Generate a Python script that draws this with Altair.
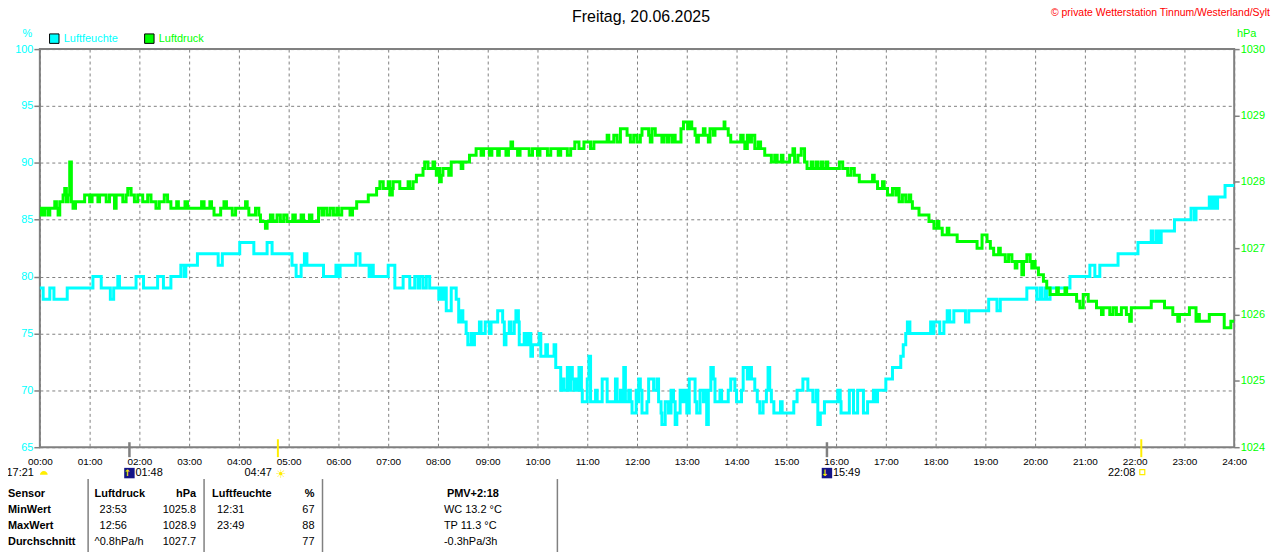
import altair as alt
import pandas as pd

# ---------------- data ----------------
hum_steps = [(0,79),(4,78),(12,79),(17,78),(33,79),(64,80),(74,79),(85,78),(89,79),(94,80),(96,79),(116,80),(125,79),(142,80),(149,79),(158,80),(170,81),(174,80),(176,81),(190,82),(215,81),(220,82),(241,83),(258,82),(274,83),(280,82),(304,81),(309,80),(315,81),(319,82),(322,81),(342,80),(357,81),(360,80),(362,81),(381,82),(386,81),(397,80),(400,81),(402,80),(420,81),(428,79),(438,80),(446,79),(452,80),(456,79),(458,80),(462,79),(466,80),(470,79),(481,78),(483,79),(486,78),(488,79),(490,77),(496,79),(502,78),(505,76),(508,77),(510,76),(514,75),(516,74),(520,75),(522,74),(524,75),(530,76),(532,75),(537,76),(542,75),(544,76),(552,77),(558,76),(560,74),(562,75),(566,76),(568,75),(572,76),(574,77),(577,76),(578,74),(584,75),(586,74),(589,75),(592,73),(594,74),(602,75),(604,73),(610,74),(612,73),(620,74),(622,72),(628,70),(630,71),(632,70),(636,72),(638,70),(640,72),(642,71),(644,70),(646,71),(649,70),(650,72),(653,70),(654,69),(660,71),(662,73),(664,69),(670,70),(672,69),(678,71),(684,69),(694,71),(696,69),(700,70),(702,69),(704,72),(706,69),(710,70),(712,69),(714,68),(719,70),(721,69),(722,71),(724,70),(726,68),(732,69),(734,71),(740,70),(744,71),(746,69),(749,68),(750,67),(754,69),(758,68),(761,70),(764,69),(766,67),(768,68),(772,70),(774,69),(777,70),(780,68),(783,71),(790,69),(792,68),(796,70),(800,69),(802,70),(804,67),(806,70),(809,72),(812,71),(814,69),(820,70),(822,69),(830,70),(833,71),(838,70),(840,69),(846,70),(848,72),(853,71),(856,72),(858,71),(862,70),(865,69),(868,68),(872,69),(876,70),(878,72),(880,70),(882,69),(885,68),(893,69),(895,68),(909,69),(913,70),(920,71),(926,70),(932,69),(936,70),(938,67),(941,68),(946,69),(962,70),(965,69),(966,68),(976,70),(981,68),(986,70),(993,68),(998,69),(1005,70),(1008,69),(1010,70),(1020,71),(1028,72),(1038,73),(1041,74),(1044,75),(1046,76),(1049,75),(1074,76),(1076,75),(1078,76),(1085,75),(1090,76),(1094,77),(1097,76),(1102,77),(1116,76),(1120,77),(1144,78),(1154,77),(1158,78),(1190,79),(1202,78),(1206,79),(1208,78),(1212,79),(1214,78),(1218,79),(1242,80),(1266,81),(1272,80),(1278,81),(1300,82),(1324,83),(1340,84),(1342,83),(1346,84),(1349,83),(1352,84),(1368,85),(1388,86),(1392,85),(1394,86),(1410,87),(1413,86),(1416,87),(1419,86),(1420,87),(1429,88),(1440,88)]

pres_steps = [(0,1027.5),(2,1027.6),(5,1027.5),(6,1027.6),(10,1027.5),(12,1027.6),(18,1027.7),(20,1027.6),(22,1027.5),(24,1027.7),(28,1027.8),(30,1027.9),(32,1027.7),(34,1027.8),(36,1028.3),(38,1027.7),(40,1027.6),(43,1027.7),(54,1027.8),(60,1027.7),(63,1027.8),(70,1027.7),(72,1027.8),(80,1027.7),(84,1027.8),(90,1027.6),(92,1027.8),(100,1027.7),(104,1027.8),(106,1027.9),(110,1027.8),(114,1027.7),(118,1027.8),(124,1027.7),(130,1027.8),(134,1027.7),(140,1027.6),(144,1027.7),(150,1027.8),(154,1027.7),(158,1027.6),(165,1027.7),(167,1027.6),(175,1027.7),(178,1027.6),(195,1027.7),(198,1027.6),(205,1027.7),(207,1027.6),(210,1027.5),(218,1027.6),(222,1027.7),(225,1027.6),(232,1027.5),(236,1027.6),
(248,1027.7),(250,1027.6),(252,1027.5),(260,1027.6),(264,1027.5),(266,1027.4),(272,1027.3),(274,1027.4),(278,1027.5),(281,1027.4),(286,1027.5),(290,1027.4),(294,1027.5),(298,1027.4),(305,1027.5),(308,1027.4),(315,1027.5),(318,1027.4),(325,1027.5),(328,1027.4),(336,1027.6),(340,1027.5),(342,1027.6),(346,1027.5),(350,1027.6),(354,1027.5),(358,1027.6),(360,1027.5),(364,1027.6),(374,1027.5),(377,1027.6),(382,1027.7),(396,1027.8),(406,1027.9),(410,1028.0),(414,1027.9),(420,1028.0),(422,1027.8),(425,1027.9),(426,1028.0),(434,1027.9),(444,1028.0),(446,1027.9),(450,1028.0),(454,1028.1),(462,1028.2),(464,1028.3),(468,1028.2),(474,1028.3),(476,1028.2),(478,1028.1),(480,1028.2),(482,1028.0),(484,1028.1),(486,1028.2),(493,1028.1),(496,1028.3),(508,1028.2),(510,1028.3),(518,1028.4),(526,1028.5),(532,1028.4),(535,1028.5),(542,1028.4),(545,1028.5),(552,1028.4),(554,1028.5),(562,1028.4),(565,1028.5),(568,1028.6),(570,1028.5),(576,1028.4),(579,1028.5),(590,1028.4),(594,1028.5),(600,1028.4),(603,1028.5),(612,1028.4),(616,1028.5),(625,1028.4),(628,1028.5),(636,1028.4),(640,1028.5),(645,1028.6),(650,1028.5),(656,1028.6),(664,1028.5),(668,1028.6),(684,1028.7),(686,1028.6),(692,1028.7),(696,1028.6),(700,1028.8),(708,1028.7),(712,1028.6),(716,1028.7),(720,1028.6),
(724,1028.7),(726,1028.8),(734,1028.7),(736,1028.6),(738,1028.8),(742,1028.7),(750,1028.6),(752,1028.7),(756,1028.6),(758,1028.7),(762,1028.6),(764,1028.7),(766,1028.6),(773,1028.8),(776,1028.9),(781,1028.8),(784,1028.9),(786,1028.8),(790,1028.7),(792,1028.6),(794,1028.7),(800,1028.8),(802,1028.7),(806,1028.6),(808,1028.8),(812,1028.7),(814,1028.8),(825,1028.9),(826,1028.8),(830,1028.7),(833,1028.6),(845,1028.7),(848,1028.6),(850,1028.5),(853,1028.7),(856,1028.6),(858,1028.7),(862,1028.5),(866,1028.6),(869,1028.5),(874,1028.4),(882,1028.3),(886,1028.4),(889,1028.3),(894,1028.4),(896,1028.3),(904,1028.4),(908,1028.5),(910,1028.3),(914,1028.4),(918,1028.5),(922,1028.3),(925,1028.2),(930,1028.3),(932,1028.2),(936,1028.3),(938,1028.2),(942,1028.3),(944,1028.2),(948,1028.3),(950,1028.2),
(964,1028.3),(968,1028.2),(974,1028.1),(978,1028.2),(982,1028.1),(988,1028.0),(1004,1028.1),(1006,1028.0),(1010,1027.9),(1016,1028.0),(1018,1027.9),(1022,1027.8),(1028,1027.9),(1032,1027.8),(1034,1027.9),(1036,1027.7),(1040,1027.8),(1044,1027.7),(1048,1027.8),(1050,1027.7),(1052,1027.6),(1060,1027.5),(1072,1027.4),(1078,1027.3),(1082,1027.4),(1084,1027.3),(1088,1027.2),(1094,1027.3),(1096,1027.2),(1106,1027.1),(1130,1027.0),(1136,1027.2),(1142,1027.1),(1146,1027.0),(1150,1026.9),(1156,1027.0),(1158,1026.9),(1164,1026.8),(1168,1026.9),(1172,1026.8),(1176,1026.7),(1178,1026.8),(1184,1026.6),(1186,1026.8),(1190,1026.9),(1194,1026.8),(1196,1026.7),(1198,1026.8),
(1200,1026.7),(1204,1026.6),(1210,1026.5),(1214,1026.4),(1218,1026.3),(1226,1026.4),(1228,1026.3),(1236,1026.4),(1238,1026.3),(1250,1026.2),(1254,1026.1),(1258,1026.3),(1264,1026.2),(1274,1026.1),(1280,1026.0),(1282,1026.1),(1290,1026.0),(1294,1026.1),(1298,1026.0),(1304,1026.1),(1310,1026.0),(1314,1025.9),(1316,1026.1),(1340,1026.2),(1356,1026.1),(1366,1026.0),(1372,1025.9),(1374,1026.0),(1386,1026.1),(1394,1025.9),(1396,1026.0),(1398,1025.9),(1410,1026.0),(1428,1025.8),(1436,1025.9),(1440,1025.9)]

hour_ticks = list(range(0, 1441, 60))
hum_ticks = [65, 70, 75, 80, 85, 90, 95, 100]
pres_ticks = [1024, 1025, 1026, 1027, 1028, 1029, 1030]

title_text = "Freitag, 20.06.2025"
copyright_text = "\u00a9 private Wetterstation Tinnum/Westerland/Sylt"
series_names = ["Luftfeuchte", "Luftdruck"]

moon_times = [108, 949]
moon_labels = ["01:48", "15:49"]
moon_arrows = ["\u2191", "\u2193"]
sunrise_time = [287]
sunrise_label = ["04:47"]
sunset_time = [1328]
sunset_label = ["22:08"]
prev_time = [0]
prev_label = ["17:21"]

header_sensor = "Sensor"
header_druck = "Luftdruck"
unit_druck = "hPa"
header_feuchte = "Luftfeuchte"
unit_feuchte = "%"
header_pmv = "PMV+2:18"
row_names = ["MinWert", "MaxWert", "Durchschnitt"]
druck_zeit = ["23:53", "12:56"]
druck_trend = ["^0.8hPa/h"]
druck_wert = ["1025.8", "1028.9", "1027.7"]
feuchte_zeit = ["12:31", "23:49"]
feuchte_wert = ["67", "88", "77"]
pmv_werte = ["WC 13.2 \u00b0C", "TP 11.3 \u00b0C", "-0.3hPa/3h"]

# ---------------- style ----------------
CYAN = "#00ffff"
GREEN = "#00ff00"
GRAY = "#808080"
YELLOW = "#ffee00"
NAVY = "#141488"
FONT = "Liberation Sans"

hum_df = pd.DataFrame(hum_steps, columns=["t", "h"])
pres_df = pd.DataFrame(pres_steps, columns=["t", "p"])

x_enc = alt.X(
    "t:Q",
    scale=alt.Scale(domain=[0, 1440], nice=False, zero=False),
    axis=alt.Axis(
        values=hour_ticks,
        labelExpr="(datum.value < 600 ? '0' : '') + floor(datum.value / 60) + ':00'",
        grid=True, gridDash=[3, 3], gridColor=GRAY, gridOpacity=1, gridWidth=1,
        ticks=False, domain=False, labelPadding=9, labelFontSize=10,
        labelColor="black", labelFlush=False, labelOverlap=False, title=None,
    ),
)

hum_line = alt.Chart(hum_df).mark_line(
    interpolate="step-after", color=CYAN, strokeWidth=3
).encode(
    x=x_enc,
    y=alt.Y(
        "h:Q",
        scale=alt.Scale(domain=[65, 100], nice=False, zero=False),
        axis=alt.Axis(
            orient="left", values=hum_ticks, grid=True, gridDash=[3, 3],
            gridColor=GRAY, gridOpacity=1, tickSize=6, tickColor=GRAY, tickWidth=1.5,
            labelColor=CYAN, labelFontSize=11, labelPadding=1, domain=False,
            title="%", titleAngle=0, titleX=-13, titleY=-16, titleColor=CYAN,
            titleFontSize=11, titleFontWeight="normal", titleAlign="center",
            titleBaseline="middle",
        ),
    ),
)

pres_line = alt.Chart(pres_df).mark_line(
    interpolate="step-after", color=GREEN, strokeWidth=3
).encode(
    x=alt.X("t:Q"),
    y=alt.Y(
        "p:Q",
        scale=alt.Scale(domain=[1024, 1030], nice=False, zero=False),
        axis=alt.Axis(
            orient="right", values=pres_ticks, format="d", grid=False, tickSize=5,
            tickColor=GRAY, tickWidth=1.5, labelColor=GREEN, labelFontSize=11,
            labelPadding=1, domain=False, title="hPa", titleAngle=0, titleX=12,
            titleY=-16, titleColor=GREEN, titleFontSize=11, titleFontWeight="normal",
            titleAlign="center", titleBaseline="middle",
        ),
    ),
)

# ---------- sun / moon markers ----------
moon_df = pd.DataFrame({"t": moon_times, "lab": moon_labels, "arr": moon_arrows})
rise_df = pd.DataFrame({"t": sunrise_time, "lab": sunrise_label})
set_df = pd.DataFrame({"t": sunset_time, "lab": sunset_label})
prev_df = pd.DataFrame({"t": prev_time, "lab": prev_label})
sun_df = pd.concat([rise_df, set_df])

ROW_Y = 426
moon_ticks = alt.Chart(moon_df).mark_rule(color=GRAY, strokeWidth=2.5).encode(
    x="t:Q", y=alt.value(395), y2=alt.value(410))
sun_ticks = alt.Chart(sun_df).mark_rule(color=YELLOW, strokeWidth=2).encode(
    x="t:Q", y=alt.value(392), y2=alt.value(410))
moon_icon = alt.Chart(moon_df).mark_square(color=NAVY, size=110, opacity=1).encode(
    x="t:Q", y=alt.value(ROW_Y))
moon_arrow = alt.Chart(moon_df).mark_text(
    color=YELLOW, fontSize=9, font="DejaVu Sans", dx=-2, fontWeight="bold"
).encode(x="t:Q", y=alt.value(ROW_Y), text="arr:N")
moon_text = alt.Chart(moon_df).mark_text(
    align="left", baseline="middle", dx=6, fontSize=11, font=FONT, color="black"
).encode(x="t:Q", y=alt.value(ROW_Y), text="lab:N")
sun_text = alt.Chart(sun_df).mark_text(
    align="right", baseline="middle", dx=-6, fontSize=11, font=FONT, color="black"
).encode(x="t:Q", y=alt.value(ROW_Y), text="lab:N")
prev_text = alt.Chart(prev_df).mark_text(
    align="right", baseline="middle", dx=-6, fontSize=11, font=FONT, color="black"
).encode(x="t:Q", y=alt.value(ROW_Y), text="lab:N")
prev_icon = alt.Chart(prev_df).mark_point(
    shape="M -1 0.45 A 1 1 0 0 1 1 0.45 Z", filled=True, color=YELLOW,
    size=60, opacity=1, xOffset=4
).encode(x="t:Q", y=alt.value(ROW_Y))
rise_icon = alt.Chart(rise_df).mark_text(
    text="\u2600", color=YELLOW, fontSize=12, font="DejaVu Sans", dx=3,
    baseline="middle"
).encode(x="t:Q", y=alt.value(ROW_Y + 1))
set_icon = alt.Chart(set_df).mark_square(
    filled=False, color=YELLOW, size=25, strokeWidth=1.2, opacity=1, xOffset=1
).encode(x="t:Q", y=alt.value(ROW_Y - 1))


# ---------- text helpers ----------
def label(txt, x, y, size=11, color="black", align="left", weight="normal"):
    return alt.Chart(pd.DataFrame({"txt": [txt]})).mark_text(
        align=align, baseline="middle", fontSize=size, font=FONT, color=color,
        fontWeight=weight,
    ).encode(x=alt.value(x), y=alt.value(y), text="txt:N")


TABLE_Y = [447, 463, 479, 495]


def column(texts, x, rows, align="left", weight="normal"):
    df = pd.DataFrame({"txt": texts, "py": [TABLE_Y[r] for r in rows]})
    return alt.Chart(df).mark_text(
        align=align, baseline="middle", fontSize=11, font=FONT, color="black",
        fontWeight=weight,
    ).encode(x=alt.value(x), y=alt.Y("py:Q", scale=None, axis=None), text="txt:N")


title_layer = label(title_text, 604, -32, size=16, align="center")
copy_layer = label(copyright_text, 1236, -36, size=10.5, color="#ff0000", align="right")

leg_sq1 = alt.Chart(pd.DataFrame({"n": [0]})).mark_square(
    color=CYAN, size=90, opacity=1, stroke="black", strokeWidth=1).encode(
    x=alt.value(14.5), y=alt.value(-10.5))
leg_sq2 = alt.Chart(pd.DataFrame({"n": [0]})).mark_square(
    color=GREEN, size=90, opacity=1, stroke="black", strokeWidth=1).encode(
    x=alt.value(110), y=alt.value(-10.5))
leg_t1 = label(series_names[0], 24, -10.5, color=CYAN)
leg_t2 = label(series_names[1], 119.5, -10.5, color=GREEN)

sep_df = pd.DataFrame({"n": [0]})
separators = [
    alt.Chart(sep_df).mark_rule(color=GRAY, strokeWidth=1.5).encode(
        x=alt.value(sx), y=alt.value(432), y2=alt.value(510))
    for sx in [48.5, 165, 284, 520]
]

table = [
    column([header_sensor] + row_names, -32, [0, 1, 2, 3], weight="bold"),
    column([header_druck], 55, [0], weight="bold"),
    column(druck_zeit, 60, [1, 2]),
    column(druck_trend, 55, [3]),
    column([unit_druck], 157, [0], align="right", weight="bold"),
    column(druck_wert, 157, [1, 2, 3], align="right"),
    column([header_feuchte], 173, [0], weight="bold"),
    column(feuchte_zeit, 178, [1, 2]),
    column([unit_feuchte], 276, [0], align="right", weight="bold"),
    column(feuchte_wert, 276, [1, 2, 3], align="right"),
    column([header_pmv], 409, [0], weight="bold"),
    column(pmv_werte, 406, [1, 2, 3]),
]

chart = alt.layer(
    hum_line, pres_line,
    moon_ticks, sun_ticks, moon_icon, moon_arrow, moon_text, sun_text,
    prev_text, prev_icon, rise_icon, set_icon,
    title_layer, copy_layer, leg_sq1, leg_sq2, leg_t1, leg_t2,
    *separators, *table,
).resolve_scale(y="independent").properties(
    width=1200, height=400,
    autosize=alt.AutoSizeParams(type="none"),
    padding={"left": 32, "top": 40, "right": 38, "bottom": 104},
    background="white",
).configure(font=FONT).configure_view(stroke=GRAY, strokeWidth=2).configure_axis(
    labelFont=FONT, titleFont=FONT)

chart.save("out.html", embed_options={"renderer": "svg", "actions": False})
